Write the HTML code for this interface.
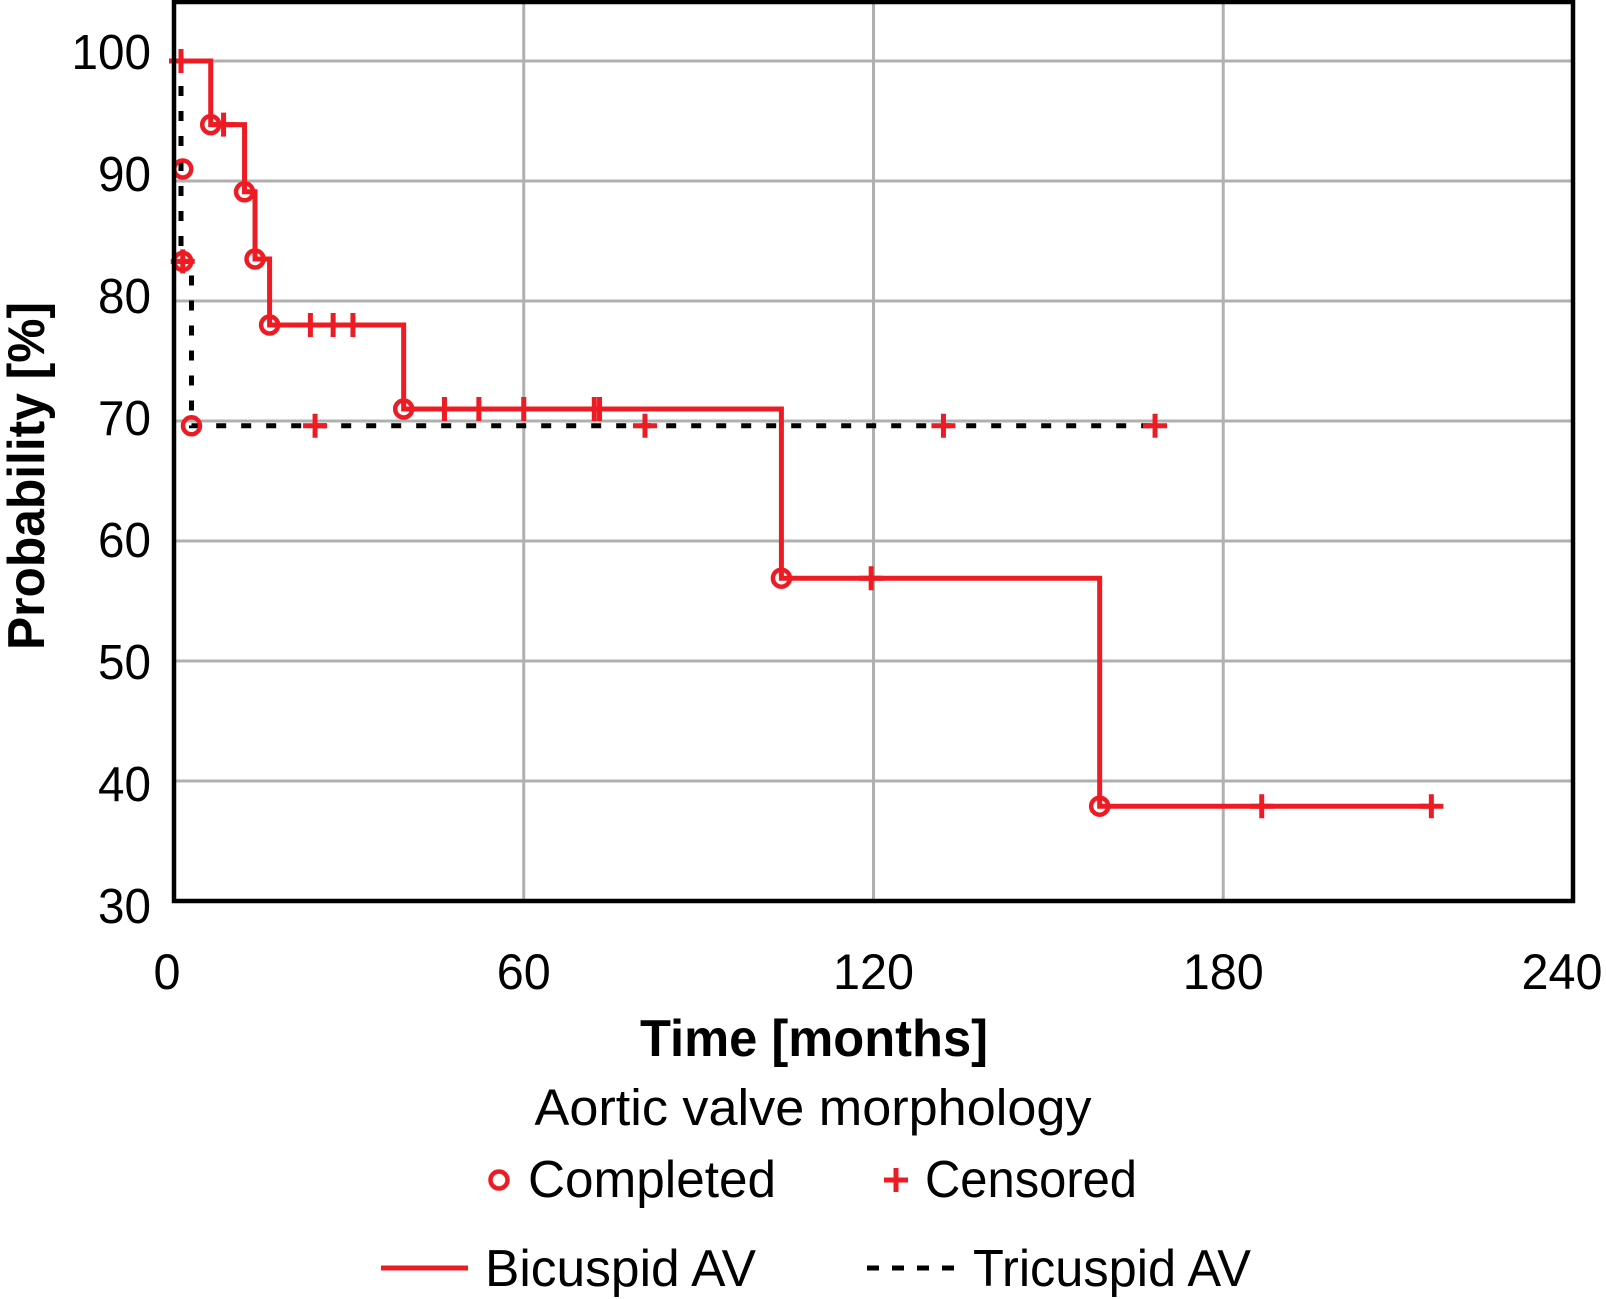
<!DOCTYPE html>
<html><head><meta charset="utf-8"><style>
html,body{margin:0;padding:0;background:#fff;}
svg{display:block;font-family:"Liberation Sans",sans-serif;}
</style></head><body>
<svg id="chart" width="1606" height="1299" viewBox="0 0 1606 1299" xmlns="http://www.w3.org/2000/svg">
<g id="grid"></g>
<g id="series"></g>
<rect x="174" y="2" width="1399" height="899" fill="none" stroke="#000" stroke-width="4.5"/>
<g id="labels"></g>
<text x="814" y="1056" text-anchor="middle" font-size="52" font-weight="bold" textLength="348" lengthAdjust="spacingAndGlyphs">Time [months]</text>
<text transform="translate(44,476) rotate(-90)" text-anchor="middle" font-size="52" font-weight="bold" textLength="348" lengthAdjust="spacingAndGlyphs">Probability [%]</text>
<text x="813" y="1125" text-anchor="middle" font-size="51" textLength="557" lengthAdjust="spacingAndGlyphs">Aortic valve morphology</text>
<g>
<circle cx="499" cy="1180" r="8.5" fill="none" stroke="#ed1c24" stroke-width="4.5"/>
<text x="528" y="1197" font-size="52" textLength="248" lengthAdjust="spacingAndGlyphs">Completed</text></g>
<g>
<path d="M896 1168V1192M884 1180H908" stroke="#ed1c24" stroke-width="5"/>
<text x="925" y="1197" font-size="52" textLength="212" lengthAdjust="spacingAndGlyphs">Censored</text></g>
<g>
<line x1="381" y1="1268" x2="468" y2="1268" stroke="#ed1c24" stroke-width="5"/>
<text x="485" y="1286" font-size="52" textLength="271" lengthAdjust="spacingAndGlyphs">Bicuspid AV</text></g>
<g>
<line x1="867" y1="1268" x2="955" y2="1268" stroke="#000" stroke-width="5" stroke-dasharray="12,13"/>
<text x="973" y="1286" font-size="52" textLength="278" lengthAdjust="spacingAndGlyphs">Tricuspid AV</text></g>
</svg>
<script>
const xTicks=[0,60,120,180,240];
const yTicks=[30,40,50,60,70,80,90,100];
const biTimes=[0,6.3,12.1,13.9,16.4,39.4,104.2,158.8,215.7];
const biSurv=[100,94.7,89.1,83.5,78.0,71.0,56.9,37.9,37.9];
const biEvents=[[6.3,94.7],[12.1,89.1],[13.9,83.5],[16.4,78.0],[39.4,71.0],[104.2,56.9],[158.8,37.9]];
const biCensT=[1.2,8.5,23.4,27.3,30.7,46.4,52.3,60.0,72.1,73.0,119.6,186.6,215.7];
const biCensS=[100,94.7,78.0,78.0,78.0,71.0,71.0,71.0,71.0,71.0,56.9,37.9,37.9];
const triTimes=[1.2,3.0,168.3];
const triSurv=[100,83.3,69.6];
const triEvents=[[1.5,91.0],[1.5,83.3],[3.0,69.6]];
const triCensT=[1.5,24.2,80.8,132,168.3];
const triCensS=[83.3,69.6,69.6,69.6,69.6];

const X=t=>174+t*(1399/240);
const Y=p=>901-(p-30)*12;
const NS='http://www.w3.org/2000/svg';
function mk(tag,attrs,parent){const e=document.createElementNS(NS,tag);for(const k in attrs)e.setAttribute(k,attrs[k]);parent.appendChild(e);return e;}
const grid=document.getElementById('grid'),ser=document.getElementById('series'),lab=document.getElementById('labels');
xTicks.forEach(t=>{
  const l=mk('line',{x1:X(t),x2:X(t),y1:2,y2:901,stroke:'#b0b0b0','stroke-width':3},grid);
  
  
  const s=String(t);
  const tx=mk('text',{x:t===240?1562:(t===0?167:X(t)),y:989,'text-anchor':'middle','font-size':50,textLength:s.length*27,lengthAdjust:'spacingAndGlyphs'},lab);
  
  
  tx.textContent=s;
});
yTicks.forEach(p=>{
  const l=mk('line',{x1:174,x2:1573,y1:Y(p),y2:Y(p),stroke:'#b0b0b0','stroke-width':3},grid);
  
  
  const s=String(p);
  const tx=mk('text',{x:151,y:69+(100-p)*12.2,'text-anchor':'end','font-size':49,textLength:s.length*26.5,lengthAdjust:'spacingAndGlyphs'},lab);
  
  
  tx.textContent=s;
});
function stepPath(ts,ss){let d='M'+X(ts[0])+' '+Y(ss[0]);for(let i=1;i<ts.length;i++){d+='H'+X(ts[i])+'V'+Y(ss[i]);}return d;}
let td='M'+X(triTimes[0])+' '+Y(triSurv[0]);
for(let i=1;i<triTimes.length;i++){td+='V'+Y(triSurv[i])+'H'+X(triTimes[i]);}
const tri=mk('path',{d:td,fill:'none',stroke:'#000','stroke-width':5,'stroke-dasharray':'10,15'},ser);


const bi=mk('path',{d:stepPath(biTimes,biSurv),fill:'none',stroke:'#ed1c24','stroke-width':5},ser);


function circ(t,s,name){const c=mk('circle',{cx:X(t),cy:Y(s),r:8.5,fill:'none',stroke:'#ed1c24','stroke-width':4.5},ser);
  
  }
function plus(t,s,name){const x=X(t),y=Y(s);const p=mk('path',{d:`M${x} ${y-12}V${y+12}M${x-12} ${y}H${x+12}`,stroke:'#ed1c24','stroke-width':5},ser);
  
  }
biEvents.forEach(e=>circ(e[0],e[1],'bicuspid-event'));
triEvents.forEach(e=>circ(e[0],e[1],'tricuspid-event'));
biCensT.forEach((t,i)=>plus(t,biCensS[i],'bicuspid-censor'));
triCensT.forEach((t,i)=>plus(t,triCensS[i],'tricuspid-censor'));
</script>
</body></html>
